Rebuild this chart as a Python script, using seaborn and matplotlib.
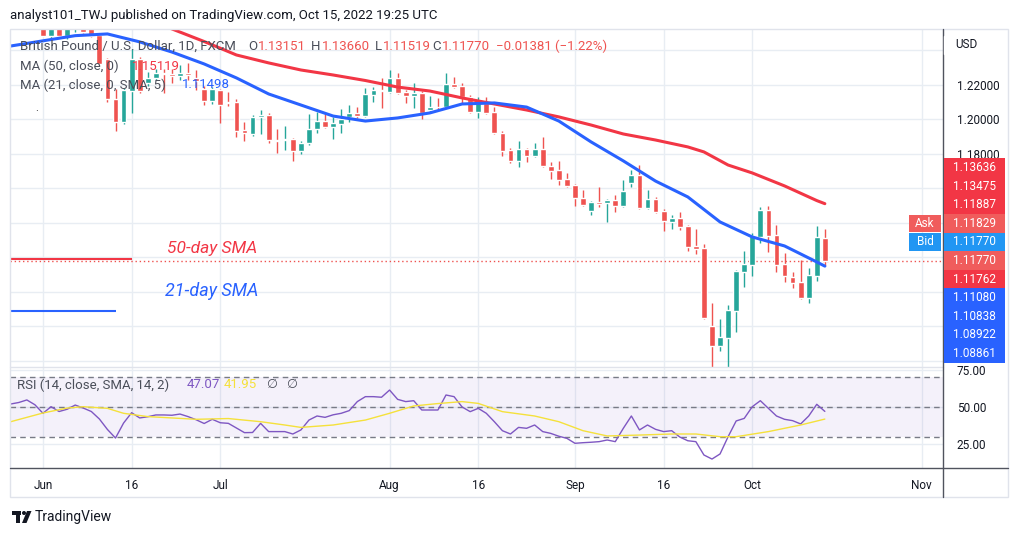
import matplotlib
matplotlib.use('Agg')
import matplotlib.pyplot as plt
import numpy as np
import pandas as pd
import seaborn as sns
from matplotlib.patches import Rectangle, Polygon, Circle

# GBPUSD daily candles, bar 0 = Jun 1 2022 ... bar 97 = Oct 14 2022
opens = [1.2570, 1.2484, 1.2600, 1.2484, 1.2540, 1.2600, 1.2560, 1.2488, 1.2351, 1.2121,
         1.1986, 1.2165, 1.2351, 1.2212, 1.2241, 1.2267, 1.2261, 1.2252, 1.2267, 1.2241,
         1.2177, 1.2107, 1.2171, 1.2101, 1.2101, 1.1939, 1.1916, 1.2015, 1.2026, 1.1884,
         1.1881, 1.1887, 1.1819, 1.1864, 1.1945, 1.1991, 1.1957, 1.1974, 1.2015, 1.2038,
         1.2020, 1.2142, 1.2169, 1.2159, 1.2241, 1.2159, 1.2136, 1.2154, 1.2055, 1.2074,
         1.2073, 1.2206, 1.2194, 1.2130, 1.2044, 1.2096, 1.2044, 1.1922, 1.1823, 1.1759,
         1.1829, 1.1788, 1.1829, 1.1730, 1.1707, 1.1655, 1.1620, 1.1545, 1.1470, 1.1519,
         1.1516, 1.1533, 1.1499, 1.1632, 1.1678, 1.1487, 1.1539, 1.1470, 1.1406, 1.1429,
         1.1383, 1.1267, 1.1255, 1.0803, 1.0687, 1.0733, 1.0890, 1.1116, 1.1157, 1.1319,
         1.1475, 1.1330, 1.1162, 1.1087, 1.1058, 1.0965, 1.1093, 1.1315]
highs = [1.2590, 1.2620, 1.2610, 1.2590, 1.2600, 1.2620, 1.2580, 1.2503, 1.2357, 1.2177,
         1.2183, 1.2409, 1.2362, 1.2275, 1.2293, 1.2293, 1.2293, 1.2316, 1.2328, 1.2287,
         1.2194, 1.2188, 1.2177, 1.2159, 1.2119, 1.1986, 1.2026, 1.2055, 1.2038, 1.1945,
         1.1962, 1.1893, 1.1875, 1.2032, 1.2044, 1.2032, 1.2015, 1.2061, 1.2084, 1.2073,
         1.2183, 1.2188, 1.2241, 1.2287, 1.2270, 1.2171, 1.2212, 1.2165, 1.2136, 1.2125,
         1.2270, 1.2246, 1.2212, 1.2142, 1.2130, 1.2130, 1.2073, 1.1933, 1.1835, 1.1875,
         1.1835, 1.1864, 1.1899, 1.1754, 1.1759, 1.1690, 1.1626, 1.1591, 1.1528, 1.1609,
         1.1539, 1.1562, 1.1649, 1.1707, 1.1736, 1.1591, 1.1551, 1.1481, 1.1446, 1.1464,
         1.1388, 1.1365, 1.1278, 1.0936, 1.0844, 1.0925, 1.1128, 1.1238, 1.1342, 1.1493,
         1.1499, 1.1388, 1.1226, 1.1116, 1.1186, 1.1139, 1.1383, 1.1366]
lows = [1.2484, 1.2467, 1.2480, 1.2467, 1.2507, 1.2500, 1.2478, 1.2316, 1.2101, 1.1933,
        1.1974, 1.2038, 1.2154, 1.2194, 1.2229, 1.2154, 1.2212, 1.2229, 1.2229, 1.2171,
        1.2084, 1.2090, 1.1980, 1.2078, 1.1899, 1.1875, 1.1904, 1.1916, 1.1864, 1.1806,
        1.1823, 1.1761, 1.1800, 1.1852, 1.1922, 1.1951, 1.1887, 1.1922, 1.1986, 1.2009,
        1.2015, 1.2101, 1.2067, 1.2154, 1.2148, 1.2096, 1.2067, 1.2003, 1.2044, 1.2061,
        1.2067, 1.2183, 1.2096, 1.2038, 1.2009, 1.2032, 1.1916, 1.1788, 1.1748, 1.1725,
        1.1754, 1.1783, 1.1725, 1.1655, 1.1620, 1.1609, 1.1499, 1.1499, 1.1446, 1.1493,
        1.1406, 1.1464, 1.1493, 1.1609, 1.1481, 1.1481, 1.1458, 1.1354, 1.1365, 1.1359,
        1.1238, 1.1220, 1.0844, 1.0350, 1.0658, 1.0540, 1.0768, 1.1029, 1.1093, 1.1284,
        1.1232, 1.1116, 1.1058, 1.1023, 1.0959, 1.0936, 1.1064, 1.1152]
closes = [1.2484, 1.2600, 1.2484, 1.2550, 1.2590, 1.2507, 1.2484, 1.2320, 1.2119, 1.1986,
          1.2171, 1.2351, 1.2165, 1.2241, 1.2270, 1.2261, 1.2255, 1.2270, 1.2258, 1.2223,
          1.2107, 1.2177, 1.2084, 1.2094, 1.1935, 1.1922, 1.2015, 1.2026, 1.1881, 1.1878,
          1.1887, 1.1819, 1.1864, 1.1945, 1.1991, 1.1957, 1.1980, 1.2003, 1.2038, 1.2020,
          1.2148, 1.2171, 1.2165, 1.2241, 1.2154, 1.2136, 1.2154, 1.2038, 1.2073, 1.2070,
          1.2206, 1.2188, 1.2130, 1.2044, 1.2101, 1.2038, 1.1922, 1.1817, 1.1759, 1.1829,
          1.1788, 1.1829, 1.1730, 1.1701, 1.1649, 1.1615, 1.1545, 1.1504, 1.1522, 1.1513,
          1.1533, 1.1499, 1.1586, 1.1678, 1.1487, 1.1539, 1.1464, 1.1412, 1.1429, 1.1377,
          1.1261, 1.1249, 1.0849, 1.0687, 1.0739, 1.0896, 1.1122, 1.1162, 1.1325, 1.1475,
          1.1325, 1.1157, 1.1093, 1.1052, 1.0965, 1.1099, 1.1319, 1.1177]

# moving averages (bar index, value)
ma50_idx = [12, 16, 20, 24, 28, 32, 36, 40, 44, 48, 52, 56, 60, 64, 68, 72, 76, 80, 82, 85, 88, 92, 96, 97]
ma50_val = [1.2594, 1.2525, 1.2452, 1.2374, 1.2328, 1.2287, 1.2258, 1.2226, 1.2188, 1.2165, 1.2125, 1.2090,
            1.2055, 1.2015, 1.1968, 1.1916, 1.1881, 1.1841, 1.1812, 1.1736, 1.1690, 1.1615, 1.1530, 1.1512]
ma21_idx = [-5, -4, 0, 4, 8, 12, 16, 20, 24, 28, 32, 36, 40, 44, 48, 52, 56, 60, 64, 68, 72, 76, 80, 84, 88, 92, 96, 97]
ma21_val = [1.2420, 1.2426, 1.2456, 1.2486, 1.2496, 1.2450, 1.2391, 1.2322, 1.2241, 1.2148, 1.2084, 1.2020, 1.1991, 1.2009,
            1.2038, 1.2090, 1.2096, 1.2072, 1.1991, 1.1870, 1.1760, 1.1643, 1.1551, 1.1406, 1.1319, 1.1267, 1.1174, 1.1150]

# RSI(14) per bar from bar -4, plus its SMA(14)
rsi_start = -4
rsi_vals = [52.0, 53.0, 54.7, 51.5,
            45.8, 50.2, 47.0, 48.5, 51.3, 49.3, 47.0, 42.0, 35.0, 29.3,
            39.3, 46.2, 42.7, 43.5, 44.7, 44.7, 44.5, 45.3, 43.6, 41.5,
            39.0, 41.8, 39.5, 39.1, 36.0, 32.9, 33.0, 39.1, 33.6, 33.6,
            33.6, 32.0, 34.7, 41.3, 44.0, 43.1, 44.8, 45.8, 47.6, 53.6,
            56.9, 56.9, 56.5, 61.3, 55.1, 53.6, 54.2, 48.0, 48.0, 48.0,
            58.0, 56.9, 50.0, 46.9, 49.1, 45.8, 40.2, 34.2, 32.0, 36.4,
            35.8, 38.0, 33.6, 32.4, 30.5, 29.1, 25.8, 26.2, 26.5, 26.9,
            28.0, 26.9, 35.8, 44.0, 34.7, 38.0, 35.1, 33.6, 34.2, 30.0,
            27.5, 26.9, 18.0, 15.3, 18.7, 30.2, 40.7, 42.4, 50.2, 54.2,
            49.1, 44.0, 41.8, 40.9, 38.7, 44.0, 51.8, 47.07]
rsi_sma_idx = [-4, 0, 3, 5, 8, 10, 13, 19, 23, 27, 30, 32, 36, 40, 43, 46, 49, 52, 54, 57, 61, 64, 67, 70, 74, 78, 81, 84, 86, 90, 94, 97]
rsi_sma_val = [40.2, 46.0, 49.3, 50.2, 49.1, 45.8, 43.6, 41.8, 42.3, 40.2, 38.0, 36.4, 38.0, 41.3, 45.8, 50.7,
               52.3, 53.6, 52.4, 46.9, 44.0, 40.2, 34.2, 30.7, 31.3, 32.0, 32.0, 30.2, 30.2, 33.6, 38.0, 41.95]

tick_idx = [0, 11, 22, 43, 54, 66, 77, 88, 109]
tick_labels = ['Jun', '16', 'Jul', 'Aug', '16', 'Sep', '16', 'Oct', 'Nov']
price_ticks = [1.18, 1.20, 1.22]
rsi_ticks = [25, 50, 75]
last_close = 1.1177
sma50_drawing = 1.11887
sma21_drawing = 1.08922

scale_labels = ['1.13636', '1.13475', '1.11887', '1.11829', '1.11770', '1.11770',
                '1.11762', '1.11080', '1.10838', '1.08922', '1.08861']
scale_colors = ['#f23645', '#f23645', '#f23645', '#f05c5c', '#2196f3', '#f05c5c',
                '#f23645', '#2962ff', '#2962ff', '#2962ff', '#2962ff']

UP, DOWN = '#26a69a', '#ef5350'
GRID = '#e8edf3'
TXT = '#131722'
LEG = '#4a4e59'

sns.set_style('white')
plt.rcParams['font.family'] = ['Roboto', 'DejaVu Sans']

df = pd.DataFrame({'open': opens, 'high': highs, 'low': lows, 'close': closes})
df['bar'] = np.arange(len(df))
df['color'] = np.where(df['close'] >= df['open'], UP, DOWN)
df['bottom'] = df[['open', 'close']].min(axis=1)
df['height'] = (df['close'] - df['open']).abs().clip(lower=0.0003)

W, H = 1018, 536
fig = plt.figure(figsize=(W / 100, H / 100), dpi=100)


def box(x0, y0, x1, y1):
    return [x0 / W, 1 - y1 / H, (x1 - x0) / W, (y1 - y0) / H]


ax = fig.add_axes(box(10, 29, 943, 367))
ax_rsi = fig.add_axes(box(10, 367, 943, 468))

xlim = (-4.09, 111.66)

# price pane
ax.vlines(df['bar'], df['low'], df['high'], colors=df['color'], lw=1, zorder=2)
ax.bar(df['bar'], df['height'], bottom=df['bottom'], width=0.72, color=df['color'], zorder=2)
sns.lineplot(x=ma50_idx, y=ma50_val, ax=ax, color='#f23645', lw=2.2, zorder=3)
sns.lineplot(x=ma21_idx, y=ma21_val, ax=ax, color='#2962ff', lw=2.2, zorder=3)
ax.axhline(last_close, color='#ef5350', ls=(0, (1, 2)), lw=1, zorder=1)
ax.hlines(sma50_drawing, xlim[0], 11, color='#f23645', lw=1.5, zorder=3)
ax.hlines(sma21_drawing, xlim[0], 9, color='#2962ff', lw=1.5, zorder=3)

ax.set_xlim(*xlim)
ax.set_ylim(1.05652, 1.25246)
grid_prices = np.round(np.arange(1.06, 1.241, 0.02), 2)
ax.set_yticks(grid_prices)
ax.set_yticklabels([f'{v:.5f}' if v in price_ticks else '' for v in grid_prices])
ax.set_xticks(tick_idx)
ax.set_xticklabels([])
ax.grid(True, color=GRID, lw=1)
ax.set_axisbelow(True)
ax.yaxis.tick_right()
ax.tick_params(axis='y', length=0, pad=10, labelsize=8.5, labelcolor=TXT)
ax.tick_params(axis='x', length=0)
for s in ax.spines.values():
    s.set_visible(False)
ax.set_xlabel('')
ax.set_ylabel('')

# RSI pane
ax_rsi.axhspan(30, 70, color='#7e57c2', alpha=0.08, lw=0)
for lvl in (70, 50, 30):
    ax_rsi.axhline(lvl, color='#787b86', ls=(0, (4, 3)), lw=1)
rsi_x = np.arange(rsi_start, rsi_start + len(rsi_vals))
sns.lineplot(x=rsi_x, y=rsi_vals, ax=ax_rsi, color='#7e57c2', lw=1)
sns.lineplot(x=rsi_sma_idx, y=rsi_sma_val, ax=ax_rsi, color='#f5e13b', lw=1)
ax_rsi.set_xlim(*xlim)
ax_rsi.set_ylim(9.33, 76.67)
ax_rsi.set_yticks(rsi_ticks)
ax_rsi.set_yticklabels([f'{v:.2f}' for v in rsi_ticks])
ax_rsi.set_xticks(tick_idx)
ax_rsi.set_xticklabels(tick_labels)
ax_rsi.grid(True, color=GRID, lw=1)
ax_rsi.set_axisbelow(True)
ax_rsi.yaxis.tick_right()
ax_rsi.tick_params(axis='y', length=0, pad=10, labelsize=8.5, labelcolor=TXT)
ax_rsi.tick_params(axis='x', length=0, pad=8, labelsize=8.5, labelcolor=TXT)
for s in ax_rsi.spines.values():
    s.set_visible(False)
ax_rsi.set_xlabel('')
ax_rsi.set_ylabel('')

# overlay in pixel coordinates for frame, legends and scale labels
ov = fig.add_axes([0, 0, 1, 1], zorder=10)
ov.set_xlim(0, W)
ov.set_ylim(H, 0)
ov.axis('off')
renderer = fig.canvas.get_renderer()


def run_text(x, y, parts, size):
    # place coloured pieces one after another on a line
    for t, c in parts:
        txt = ov.text(x, y, t, fontsize=size, color=c, va='center')
        x = txt.get_window_extent(renderer).x1 + 1


ov.add_patch(Rectangle((10, 29), 998, 468, fill=False, ec='#e0e3eb', lw=1))
ov.plot([10, 943], [367, 367], color='#e0e3eb', lw=1)
ov.plot([943, 943], [29, 497], color='#50535e', lw=1)
ov.plot([10, 1008], [468, 468], color='#50535e', lw=1)

ov.text(10, 16, 'analyst101_TWJ published on TradingView.com, Oct 15, 2022 19:25 UTC',
        fontsize=9.5, color=TXT, va='center')

ov.text(20, 46, 'British Pound / U.S. Dollar, 1D, FXCM', fontsize=9.5, color=LEG, va='center')
run_text(248, 46, [('O', LEG), ('1.13151', DOWN)], 9.5)
run_text(311, 46, [('H', LEG), ('1.13660', DOWN)], 9.5)
run_text(375, 46, [('L', LEG), ('1.11519', DOWN)], 9.5)
run_text(432, 46, [('C', LEG), ('1.11770', DOWN)], 9.5)
ov.text(496, 46, '\u22120.01381 (\u22121.22%)', fontsize=9.5, color=DOWN, va='center')

ov.text(20, 66, 'MA (50, close, 0)', fontsize=9.5, color=LEG, va='center')
ov.text(132, 66, '1.15119', fontsize=9.5, color='#f23645', va='center')
ov.text(20, 85, 'MA (21, close, 0, SMA, 5)', fontsize=9.5, color=LEG, va='center')
ov.text(182, 85, '1.11498', fontsize=9.5, color='#2962ff', va='center')
ov.text(35, 108, '.', fontsize=8, color='#222222', va='center')

ov.text(167, 248, '50-day SMA', fontsize=12.5, style='italic', color='#f23645', va='center')
ov.text(165, 291, '21-day SMA', fontsize=13, style='italic', color='#2962ff', va='center')

ov.text(17, 385, 'RSI (14, close, SMA, 14, 2)', fontsize=9.5, color=LEG, va='center')
ov.text(187, 385, '47.07', fontsize=9.5, color='#7e57c2', va='center')
ov.text(224, 385, '41.95', fontsize=9.5, color='#f5e13b', va='center')
ov.text(266, 385, '\u2205', fontsize=9, color=LEG, va='center')
ov.text(286, 385, '\u2205', fontsize=9, color=LEG, va='center')

# right scale
ov.add_patch(Rectangle((944, 36), 50, 18, color='white', zorder=4))
ov.text(955, 45, 'USD', fontsize=8.5, color=TXT, va='center', zorder=5)
step = 18.6
for k, (lab, col) in enumerate(zip(scale_labels, scale_colors)):
    yc = 167.5 + k * step
    ov.add_patch(Rectangle((944, yc - step / 2), 61, step, color=col, lw=0, zorder=4))
    ov.text(953, yc, lab, fontsize=8.5, color='white', va='center', zorder=5)
for lab, k, col in [('Ask', 3, '#f05c5c'), ('Bid', 4, '#2196f3')]:
    yc = 167.5 + k * step
    ov.add_patch(Rectangle((909, yc - step / 2 + 0.5), 32, step - 1, color=col, lw=0, zorder=4))
    ov.text(925, yc, lab, fontsize=8.5, color='white', va='center', ha='center', zorder=5)

# TradingView mark
ov.add_patch(Rectangle((12, 511), 9, 4, color=TXT, lw=0))
ov.add_patch(Rectangle((16, 511), 4.5, 12, color=TXT, lw=0))
ov.add_patch(Circle((24, 513), 2, color=TXT, lw=0))
ov.add_patch(Polygon([(22, 523), (26.5, 523), (31.5, 511), (27, 511)], closed=True, color=TXT, lw=0))
ov.text(35, 517, 'TradingView', fontsize=10, color=TXT, va='center')

fig.savefig('out.png', dpi=100)
